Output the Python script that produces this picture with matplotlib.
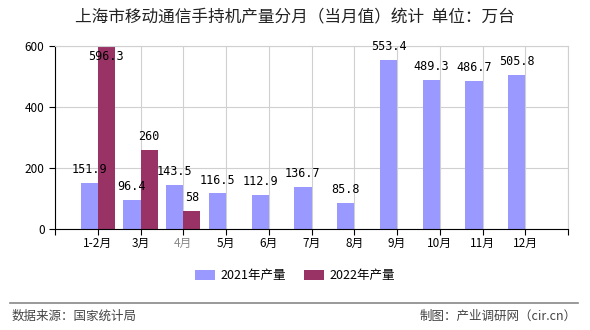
import matplotlib
matplotlib.use("Agg")
import matplotlib.pyplot as plt
import numpy as np

plt.rcParams['font.family'] = ['Noto Sans CJK SC', 'DejaVu Sans']

categories = ["1-2月", "3月", "4月", "5月", "6月", "7月", "8月", "9月", "10月", "11月", "12月"]
values_2021 = [151.9, 96.4, 143.5, 116.5, 112.9, 136.7, 85.8, 553.4, 489.3, 486.7, 505.8]
values_2022 = [596.3, 260, 58]
yticks = [0, 200, 400, 600]

c21 = "#9999FF"
c22 = "#993366"

fig = plt.figure(figsize=(5.9, 3.3), dpi=100)
ax = fig.add_axes([55/590, 1-229/330, (568-55)/590, (229-46)/330])

x = np.arange(len(categories))
w = 0.4
ax.bar(x - w/2, values_2021, w, color=c21, label="2021年产量", zorder=2)
x22 = np.arange(len(values_2022))
ax.bar(x22 + w/2, values_2022, w, color=c22, label="2022年产量", zorder=2)

ax.set_xlim(-1, 11)
ax.set_ylim(0, 600)
ax.set_yticks(yticks)
ax.set_xticks(np.arange(-1, 12))
ax.set_xticklabels([""] + categories + [""])
ax.grid(True, color="#d0d0d0", linewidth=0.8, zorder=0)
ax.set_axisbelow(True)
for s in ["top", "right"]:
    ax.spines[s].set_color("#d0d0d0")
for s in ["left", "bottom"]:
    ax.spines[s].set_color("black")
ax.tick_params(axis="both", labelsize=8.5, length=4, color="black")
ax.tick_params(axis="x", pad=2)
for lbl in ax.get_xticklabels():
    if lbl.get_text() == "4月":
        lbl.set_color("#888888")

def label(xp, v):
    txt = f"{v:g}"
    if v > 570:
        ax.annotate(txt, (xp, 600), xytext=(0, -3), textcoords="offset points",
                    ha="center", va="top", fontsize=8.5, family="DejaVu Sans Mono", zorder=3)
    else:
        ax.annotate(txt, (xp, v), xytext=(0, 5), textcoords="offset points",
                    ha="center", va="bottom", fontsize=8.5, family="DejaVu Sans Mono", zorder=3)

for xi, v in zip(x, values_2021):
    label(xi - w/2, v)
for xi, v in zip(x22, values_2022):
    label(xi + w/2, v)

fig.text(0.5, 1-18/330, "上海市移动通信手持机产量分月（当月值）统计  单位：万台",
         ha="center", va="center", fontsize=12, color="#222222")

handles, labels_ = ax.get_legend_handles_labels()
fig.legend(handles, labels_, loc="center", bbox_to_anchor=(0.5, 1-276/330), ncol=2,
           frameon=False, fontsize=9, handlelength=1.6, handleheight=0.8,
           columnspacing=1.5, handletextpad=0.4)

fig.add_artist(plt.Line2D([10/590, 578/590], [1-303/330, 1-303/330], color="#888888", linewidth=1.2))
fig.text(12/590, 1-316/330, "数据来源：国家统计局", ha="left", va="center", fontsize=9, color="#444444")
fig.text(577/590, 1-316/330, "制图：产业调研网（cir.cn）", ha="right", va="center", fontsize=9, color="#444444")

fig.savefig("out.png", dpi=100)
